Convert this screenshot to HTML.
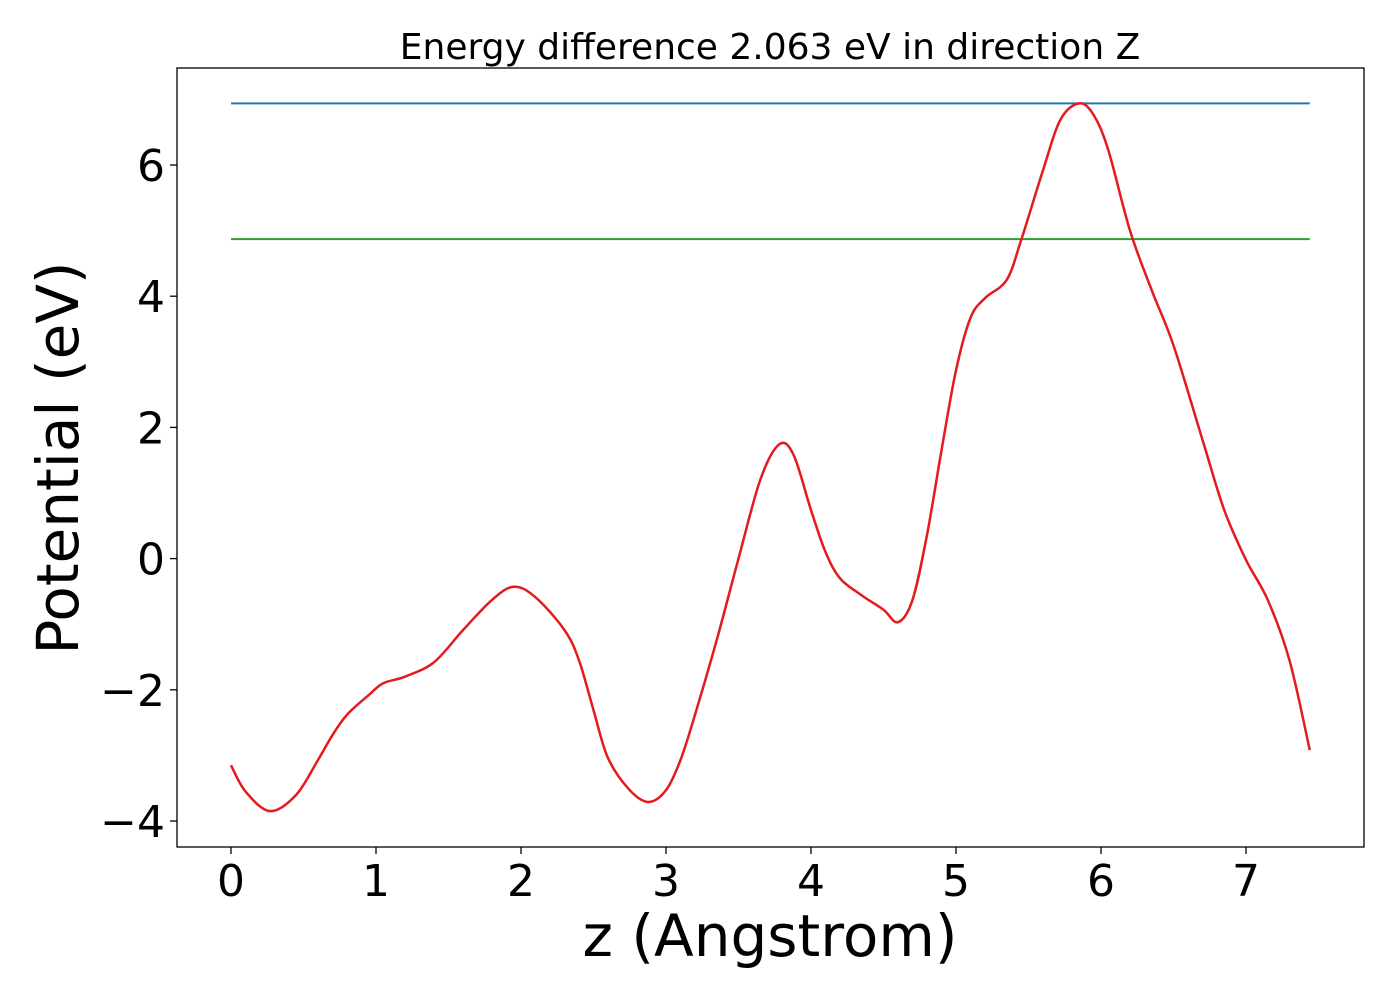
<!DOCTYPE html>
<html><head><meta charset="utf-8"><style>
body{margin:0;background:#fff;}
svg{display:block;font-family:"DejaVu Sans","Liberation Sans",sans-serif;}
</style></head><body>
<svg id="chart" width="1400" height="1000">
<text x="770" y="59" font-size="36" text-anchor="middle">Energy difference 2.063 eV in direction Z</text>
<rect x="177" y="68" width="1187" height="779" fill="none" stroke="#000" stroke-width="1.3"/>
<g id="xticks"></g>
<g id="yticks"></g>
<g id="series"></g>
<text x="770" y="956" font-size="58" text-anchor="middle">z (Angstrom)</text>
<text transform="translate(78,458) rotate(-90)" font-size="58" text-anchor="middle">Potential (eV)</text>
</svg>
<script>
const xTicks=[0,1,2,3,4,5,6,7];
const yTicks=[-4,-2,0,2,4,6];
const zValues=[0,0.1,0.27,0.45,0.6,0.7,0.8,0.95,1.05,1.2,1.4,1.6,1.8,1.95,2.1,2.3,2.4,2.5,2.6,2.75,2.88,3.0,3.1,3.2,3.35,3.5,3.65,3.78,3.88,4.0,4.1,4.2,4.35,4.5,4.6,4.7,4.8,4.9,5.0,5.1,5.2,5.35,5.45,5.6,5.72,5.85,5.95,6.05,6.2,6.35,6.5,6.7,6.85,7.0,7.15,7.3,7.44];
const potential=[-3.15,-3.55,-3.85,-3.6,-3.07,-2.69,-2.38,-2.08,-1.9,-1.8,-1.58,-1.09,-0.63,-0.43,-0.59,-1.09,-1.55,-2.31,-3.04,-3.53,-3.71,-3.53,-3.07,-2.38,-1.24,0,1.2,1.74,1.58,0.74,0.1,-0.3,-0.56,-0.78,-0.97,-0.63,0.36,1.65,2.87,3.67,3.97,4.25,4.86,5.92,6.69,6.94,6.76,6.23,5.0,4.09,3.25,1.81,0.74,-0.02,-0.63,-1.55,-2.92];
const maxLevel=[6.94];
const avgLevel=[4.87];
const xRange=[0,7.44];
const NS="http://www.w3.org/2000/svg";
const X=v=>231+v*145;
const Y=v=>558.6-v*65.6;
function mk(tag,attrs,parent){const e=document.createElementNS(NS,tag);for(const k in attrs)e.setAttribute(k,attrs[k]);parent.appendChild(e);return e;}
const xg=document.getElementById('xticks'),yg=document.getElementById('yticks'),sg=document.getElementById('series');
xTicks.forEach(t=>{
 const l=mk('line',{x1:X(t),x2:X(t),y1:847,y2:854,stroke:'#000','stroke-width':1.3},xg);
 
 
 const tx=mk('text',{x:X(t),y:896,'font-size':44,'text-anchor':'middle'},xg);
 tx.textContent=t;
 
 
});
yTicks.forEach(t=>{
 const l=mk('line',{x1:170,x2:177,y1:Y(t),y2:Y(t),stroke:'#000','stroke-width':1.3},yg);
 
 
 const tx=mk('text',{x:165,y:Y(t)+16,'font-size':44,'text-anchor':'end'},yg);
 tx.textContent=t<0?'\u2212'+Math.abs(t):t;
 
 
});
const bl=mk('line',{x1:X(xRange[0]),x2:X(xRange[1]),y1:Y(maxLevel[0]),y2:Y(maxLevel[0]),stroke:'#1f77b4','stroke-width':2},sg);


const gl=mk('line',{x1:X(xRange[0]),x2:X(xRange[1]),y1:Y(avgLevel[0]),y2:Y(avgLevel[0]),stroke:'#2ca02c','stroke-width':2},sg);


const P=zValues.map((z,i)=>[X(z),Y(potential[i])]);
let d='M'+P[0][0]+','+P[0][1];
for(let i=0;i<P.length-1;i++){
 const p0=P[Math.max(0,i-1)],p1=P[i],p2=P[i+1],p3=P[Math.min(P.length-1,i+2)];
 const c1=[p1[0]+(p2[0]-p0[0])/6,p1[1]+(p2[1]-p0[1])/6];
 const c2=[p2[0]-(p3[0]-p1[0])/6,p2[1]-(p3[1]-p1[1])/6];
 d+=`C${c1[0]},${c1[1]} ${c2[0]},${c2[1]} ${p2[0]},${p2[1]}`;
}
const pl=mk('path',{d:d,fill:'none',stroke:'#e41a1c','stroke-width':2.5},sg);


</script>
</body></html>
